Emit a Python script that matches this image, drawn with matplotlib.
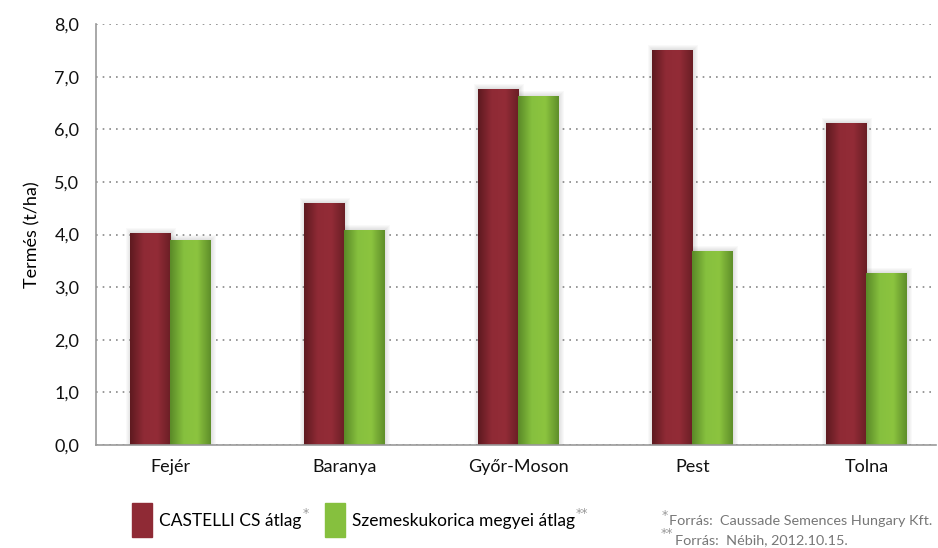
import numpy as np
import matplotlib.pyplot as plt
from matplotlib.colors import LinearSegmentedColormap
from matplotlib.patches import Rectangle
from matplotlib.ticker import FuncFormatter

plt.rcParams['font.family'] = ['Lato', 'DejaVu Sans']

# --- data ---
counties = ["Fejér", "Baranya", "Győr-Moson", "Pest", "Tolna"]
castelli = [4.02, 4.60, 6.76, 7.51, 6.11]
megyei = [3.90, 4.09, 6.64, 3.68, 3.27]
series_names = ["CASTELLI CS átlag", "Szemeskukorica megyei átlag"]
footnotes = ["Forrás:  Caussade Semences Hungary Kft.", "Forrás:  Nébih, 2012.10.15."]

RED = ["#5e1a20", "#8f2a35", "#932c37", "#6a1e25"]
GREEN = ["#5a8a28", "#86c03e", "#8cc43f", "#5f8f2a"]
W, H = 938, 548


def gradient_bars(ax, bars, colors):
    cmap = LinearSegmentedColormap.from_list("g", colors)
    grad = np.linspace(0, 1, 64).reshape(1, -1)
    for b in bars:
        x, y = b.get_x(), b.get_y()
        w, h = b.get_width(), b.get_height()
        im = ax.imshow(grad, cmap=cmap, extent=(x, x + w, y, y + h),
                       aspect="auto", zorder=3, interpolation="bicubic")
        im.set_clip_path(b)
        b.set_facecolor("none")


def soft_shadow(ax, bars, px_x, px_y):
    # a few faint growing rectangles behind each bar
    for b in bars:
        x, w, h = b.get_x(), b.get_width(), b.get_height()
        for k in range(1, 6):
            ax.add_patch(Rectangle((x - k * px_x + px_x, 0), w + 2 * k * px_x, h + k * px_y,
                                   color="black", alpha=0.025, lw=0, zorder=2))


def star(x_px, base_px_from_top, s, size=9):
    fig.text(x_px / W, 1 - base_px_from_top / H, s, fontsize=size, color="#999999",
             va="baseline", ha="left", family="DejaVu Sans")


fig = plt.figure(figsize=(9.38, 5.48), dpi=100)
ax = fig.add_axes([96 / W, 1 - 445 / H, 840 / W, 421 / H])

x = np.arange(len(counties))
w = 0.23
b1 = ax.bar(x - w / 2, castelli, w, color=RED[1], zorder=3, linewidth=0)
b2 = ax.bar(x + w / 2, megyei, w, color=GREEN[1], zorder=3, linewidth=0)
soft_shadow(ax, b1, 1 / 174, 8 / 421)
soft_shadow(ax, b2, 1 / 174, 8 / 421)
gradient_bars(ax, b1, RED)
gradient_bars(ax, b2, GREEN)

ax.set_xlim(-0.425, 4.40)
ax.set_ylim(0, 8)
ax.set_yticks(np.arange(0, 8.1, 1))
ax.yaxis.set_major_formatter(FuncFormatter(lambda v, p: f"{v:.1f}".replace(".", ",")))
ax.grid(axis="y", linestyle=(0, (1, 3)), color="#888888", linewidth=1.2, zorder=0)
ax.set_xticks(x)
ax.set_xticklabels(counties)
ax.tick_params(axis="both", length=0, labelsize=13, colors="#111111")
ax.tick_params(axis="x", pad=10)
ax.tick_params(axis="y", pad=12)
for s in ["top", "right"]:
    ax.spines[s].set_visible(False)
for s in ["left", "bottom"]:
    ax.spines[s].set_color("#999999")
    ax.spines[s].set_linewidth(1.2)
    ax.spines[s].set_zorder(4)
ax.set_ylabel("Termés (t/ha)", fontsize=13, labelpad=10)

# --- legend drawn by hand ---
fig.add_artist(Rectangle((132 / W, 1 - 537 / H), 20 / W, 34 / H,
                         transform=fig.transFigure, color=RED[1]))
fig.add_artist(Rectangle((325 / W, 1 - 537 / H), 20 / W, 34 / H,
                         transform=fig.transFigure, color=GREEN[1]))
t1 = fig.text(159 / W, 1 - 521 / H, series_names[0], fontsize=12.5, va="center")
t2 = fig.text(352 / W, 1 - 521 / H, series_names[1], fontsize=12.5, va="center")

fig.canvas.draw()
r = fig.canvas.get_renderer()
for t, s in [(t1, "*"), (t2, "**")]:
    bb = t.get_window_extent(r)
    star(bb.x1 + 1, 517.5, s)

# --- footnotes ---
star(662, 519.5, "*")
star(661, 537.5, "**")
fig.text(669 / W, 1 - 521 / H, footnotes[0], fontsize=10.4, color="#777777", va="center")
fig.text(675 / W, 1 - 540 / H, footnotes[1], fontsize=10.4, color="#777777", va="center")

fig.savefig("out.png", dpi=100)
